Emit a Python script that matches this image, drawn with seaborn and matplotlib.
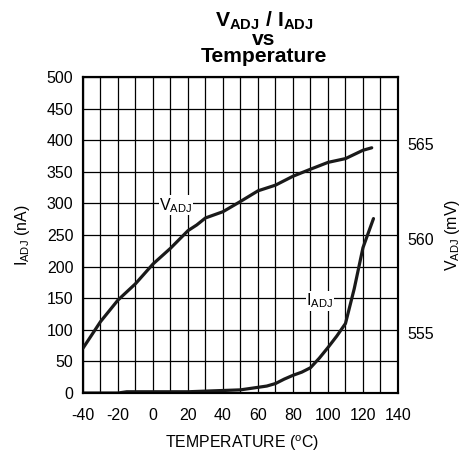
import matplotlib
matplotlib.use("Agg")
import matplotlib.pyplot as plt
import matplotlib.transforms as mtransforms
import seaborn as sns
import pandas as pd

# Data
temp_v = [-40, -30, -20, -10, 0, 10, 20, 25, 30, 40, 50, 60, 70, 80, 90, 100, 110, 120, 125]
vadj_mv = [554.03, 555.43, 556.57, 557.43, 558.47, 559.30, 560.23, 560.53, 560.90, 561.23,
           561.77, 562.33, 562.63, 563.10, 563.47, 563.83, 564.03, 564.47, 564.60]

temp_i = [-40, -20, -15, 0, 20, 30, 40, 50, 60, 65, 70, 75, 80, 85, 90, 95, 100, 105, 110, 115, 120, 126]
iadj_na = [0, 0, 2, 2, 2, 3, 4, 5, 9, 11, 15, 22, 28, 33, 40, 55, 72, 90, 110, 165, 230, 276]

x_ticks = [-40, -20, 0, 20, 40, 60, 80, 100, 120, 140]
y_ticks = [0, 50, 100, 150, 200, 250, 300, 350, 400, 450, 500]
y2_ticks = [555, 560, 565]

sns.set_style("white")
plt.rcParams['font.family'] = ['Liberation Sans', 'DejaVu Sans']
plt.rcParams['text.color'] = 'black'
plt.rcParams['mathtext.fontset'] = 'custom'
plt.rcParams['mathtext.rm'] = 'Liberation Sans'
plt.rcParams['mathtext.it'] = 'Liberation Sans'
plt.rcParams['mathtext.bf'] = 'Liberation Sans:bold'

fig = plt.figure(figsize=(4.67, 4.57), dpi=100)
ax = fig.add_axes([0.1777, 0.1400, 0.6745, 0.6915])
ax2 = ax.twinx()

df_i = pd.DataFrame({"T": temp_i, "I": iadj_na})
df_v = pd.DataFrame({"T": temp_v, "V": vadj_mv})

ax.set_xlim(-40, 140)
ax.set_ylim(0, 500)
ax.set_xticks(range(-40, 141, 10))
ax.set_xticklabels([str(t) if t in x_ticks else "" for t in range(-40, 141, 10)])
ax.set_yticks(y_ticks)
ax.grid(True, color="black", linewidth=0.9)
ax.set_axisbelow(True)

sns.lineplot(data=df_i, x="T", y="I", ax=ax, color="#1a1a1a", linewidth=2.3, zorder=3)
sns.lineplot(data=df_v, x="T", y="V", ax=ax2, color="#1a1a1a", linewidth=2.3, zorder=3)

ax2.set_ylim(560 - 250 / 30, 560 + 250 / 30)
ax2.set_yticks(y2_ticks)
ax2.grid(False)

for a in (ax, ax2):
    for s in a.spines.values():
        s.set_visible(True)
        s.set_color("black")
        s.set_linewidth(1.5)
    a.tick_params(length=0, labelsize=11.5, colors="black")

ax.tick_params(axis="x", pad=11)
ax.tick_params(axis="y", pad=7)
ax2.tick_params(axis="y", pad=6.5)

ax.set_xlabel("")
ax.set_ylabel("")
ax2.set_ylabel("")

offset = mtransforms.ScaledTranslation(0, -0.035, fig.dpi_scale_trans)
for t in ax2.yaxis.get_major_ticks():
    t.label2.set_transform(t.label2.get_transform() + offset)

fig.text(242 / 467, 1 - 443 / 457, "TEMPERATURE ($^{\\mathrm{o}}$C)", fontsize=11.4,
         ha="center", va="center")
fig.text(22 / 467, 1 - 235 / 457, "I$_{\\mathrm{ADJ}}$ (nA)", fontsize=11.4,
         ha="center", va="center", rotation=90)
fig.text(453 / 467, 1 - 235 / 457, "V$_{\\mathrm{ADJ}}$ (mV)", fontsize=11.4,
         ha="center", va="center", rotation=90)

ax.text(13.0, 297, "V$_{\\mathrm{ADJ}}$", fontsize=11.5, ha="center", va="center",
        bbox=dict(facecolor="white", edgecolor="none", pad=0.5), zorder=4)
ax.text(95.4, 146, "I$_{\\mathrm{ADJ}}$", fontsize=11.5, ha="center", va="center",
        bbox=dict(facecolor="white", edgecolor="none", pad=0.5), zorder=4)

fig.text(264 / 467, 1 - 38 / 457,
         "V$_{\\mathbf{ADJ}}$ / I$_{\\mathbf{ADJ}}$\nvs\nTemperature",
         fontsize=15.2, fontweight="bold", ha="center", va="center", linespacing=0.85)

fig.savefig("out.png", dpi=100)
